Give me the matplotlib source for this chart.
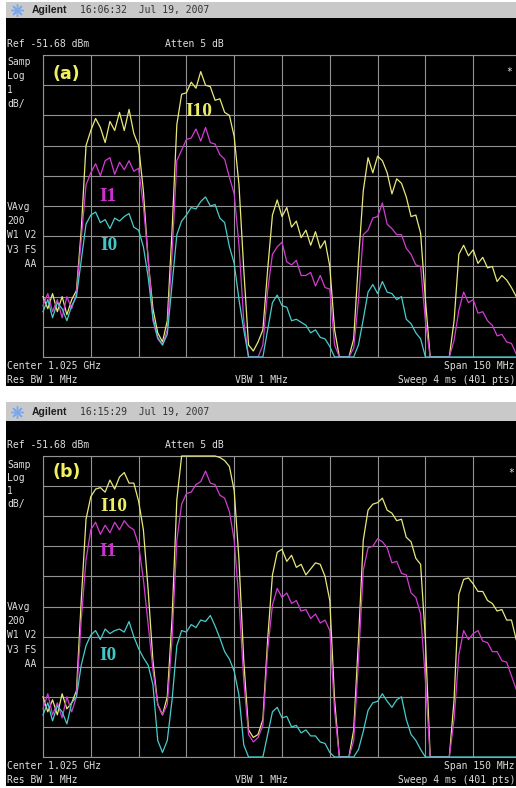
import numpy as np
import matplotlib
matplotlib.use("Agg")
import matplotlib.pyplot as plt
from matplotlib.patches import Rectangle

# ---------------------------------------------------------------------------
# Instrument settings shown on screen
REF_DBM = -51.68          # reference level (top graticule line)
DB_PER_DIV = 1            # log scale, 1 dB / division
N_DIV = 10
F_START_MHZ = 950.0       # center 1.025 GHz, span 150 MHz
F_STOP_MHZ = 1100.0
F_STEP_MHZ = 1.5          # trace sample spacing

# Trace levels in dB relative to the reference level, one value per 1.5 MHz
# Panel (a), 16:06:32
A_I10 = [-8.0, -8.4, -7.9, -8.5, -8.0, -8.6, -8.1, -7.8, -5.8, -3.0,
         -2.5, -2.1, -2.4, -2.9, -2.2, -2.5, -1.9, -2.5, -1.8, -2.6,
         -3.0, -4.5, -6.8, -8.4, -9.2, -9.5, -8.8, -5.8, -2.3, -1.3,
         -1.25, -0.9, -1.1, -0.55, -1.0, -1.05, -1.5, -1.45, -1.9, -2.0,
         -2.7, -4.3, -7.1, -9.6, -9.8, -9.5, -9.1, -7.1, -5.3, -4.8,
         -5.35, -5.05, -5.7, -5.5, -6.05, -5.8, -6.3, -5.85, -6.4, -6.15,
         -7.0, -9.1, -10, -10, -10, -9.4, -6.8, -4.5, -3.4, -3.9,
         -3.35, -3.5, -3.9, -4.6, -4.1, -4.25, -4.7, -5.35, -5.3, -5.9,
         -8.1, -10, -10, -10, -10, -10, -8.8, -6.6, -6.3, -6.65,
         -6.45, -6.9, -6.7, -7.05, -7.0, -7.5, -7.3, -7.45, -7.7, -8.0,
         -8.3]
A_I1 = [-8.3, -7.9, -8.5, -8.1, -8.7, -8.0, -8.4, -7.9, -6.1, -4.3,
        -3.9, -3.6, -4.0, -3.5, -3.4, -3.95, -3.55, -3.8, -3.5, -3.85,
        -3.75, -5.0, -6.7, -8.8, -9.4, -9.6, -9.1, -6.6, -3.5, -3.15,
        -2.8, -2.75, -2.45, -2.85, -2.4, -2.9, -2.95, -3.3, -3.45, -4.05,
        -4.6, -6.3, -8.8, -10, -10, -10, -9.6, -7.8, -6.6, -6.35,
        -6.2, -6.85, -6.95, -6.8, -7.3, -7.3, -7.2, -7.65, -7.3, -7.7,
        -7.75, -9.6, -10, -10, -10, -9.7, -8.1, -5.95, -5.8, -5.4,
        -5.35, -4.9, -5.6, -5.75, -5.95, -5.95, -6.4, -6.6, -6.95, -7.0,
        -8.8, -10, -10, -10, -10, -10, -9.45, -8.45, -7.85, -8.2,
        -8.1, -8.55, -8.5, -8.8, -8.95, -9.3, -9.25, -9.5, -9.55, -9.9,
        -10]
A_I0 = [-8.5, -8.1, -8.7, -8.2, -8.4, -8.8, -8.3, -8.0, -6.8, -5.6,
        -5.3, -5.2, -5.55, -5.45, -5.75, -5.4, -5.5, -5.35, -5.25, -5.7,
        -5.8, -6.35, -7.35, -8.7, -9.35, -9.6, -9.25, -7.6, -5.95, -5.5,
        -5.3, -5.05, -5.1, -4.85, -4.7, -5.0, -4.95, -5.4, -5.55, -6.35,
        -6.9, -8.1, -9.1, -10, -10, -10, -10, -9.1, -8.2, -7.95,
        -8.3, -8.35, -8.8, -8.75, -8.85, -8.95, -9.2, -9.1, -9.35, -9.4,
        -9.65, -10, -10, -10, -10, -10, -9.6, -8.75, -7.85, -7.6,
        -7.9, -7.5, -7.85, -7.9, -8.1, -8.0, -8.75, -8.9, -9.2, -9.4,
        -10, -10, -10, -10, -10, -10, -10, -10, -10, -10,
        -10, -10, -10, -10, -10, -10, -10, -10, -10, -10,
        -10]

# Panel (b), 16:15:29
B_I10 = [-8.0, -8.5, -8.1, -8.6, -7.9, -8.4, -8.2, -7.8, -4.8, -2.1,
         -1.35, -1.1, -1.05, -1.2, -0.8, -1.1, -0.7, -0.55, -0.9, -0.9,
         -1.5, -2.45, -4.45, -6.8, -8.25, -8.6, -8.0, -5.4, -1.45, 0.0,
         0.0, 0.0, 0.0, 0.0, 0.0, 0.0, 0.0, -0.05, -0.15, -0.35,
         -1.15, -3.45, -6.8, -9.1, -9.35, -9.25, -8.75, -6.1, -3.95, -3.2,
         -3.1, -3.5, -3.3, -3.7, -3.6, -3.95, -3.75, -3.55, -3.6, -4.0,
         -4.8, -8.1, -10, -10, -10, -9.1, -6.1, -2.8, -1.8, -1.6,
         -1.55, -1.4, -1.8, -1.9, -2.15, -2.1, -2.7, -2.85, -3.4, -3.6,
         -6.1, -10, -10, -10, -10, -10, -8.1, -4.6, -4.1, -4.05,
         -4.25, -4.5, -4.5, -4.8, -4.9, -5.15, -5.1, -5.45, -5.45, -6.1,
         -6.5]
B_I1 = [-8.4, -7.9, -8.6, -8.2, -8.7, -8.0, -8.5, -8.0, -5.45, -3.45,
        -2.45, -2.2, -2.6, -2.3, -2.55, -2.2, -2.45, -2.15, -2.35, -2.45,
        -2.95, -4.1, -5.6, -7.1, -8.25, -8.6, -8.25, -6.1, -2.8, -1.6,
        -1.25, -1.2, -0.95, -0.85, -0.5, -0.9, -0.95, -1.3, -1.4, -1.85,
        -2.8, -4.8, -7.45, -9.25, -9.5, -9.35, -8.95, -6.45, -4.95, -4.4,
        -4.7, -4.55, -4.9, -4.8, -5.15, -5.1, -5.4, -5.25, -5.55, -5.45,
        -5.8, -8.45, -10, -10, -10, -9.45, -6.8, -3.8, -3.05, -3.0,
        -2.75, -2.85, -3.05, -3.55, -3.5, -3.9, -3.95, -4.55, -4.7, -5.25,
        -7.45, -10, -10, -10, -10, -10, -8.75, -6.6, -5.8, -6.1,
        -5.9, -5.8, -6.15, -6.2, -6.5, -6.5, -6.8, -6.85, -7.3, -7.75,
        -8.2]
B_I0 = [-8.6, -8.2, -8.8, -8.3, -8.5, -8.9, -8.2, -8.0, -6.95, -6.3,
        -5.95, -5.8, -6.1, -5.75, -5.9, -5.8, -5.75, -5.85, -5.5, -6.0,
        -6.4, -6.7, -6.95, -7.6, -9.45, -9.85, -9.45, -8.1, -6.3, -5.8,
        -5.85, -5.6, -5.7, -5.45, -5.5, -5.3, -5.65, -6.05, -6.5, -6.75,
        -7.15, -7.95, -9.6, -10, -10, -10, -10, -9.25, -8.5, -8.35,
        -8.7, -8.65, -9.0, -8.95, -9.2, -9.1, -9.3, -9.3, -9.5, -9.55,
        -9.85, -10, -10, -10, -10, -10, -9.75, -9.15, -8.45, -8.2,
        -8.15, -7.9, -8.15, -8.35, -8.1, -8.0, -8.75, -9.25, -9.45, -9.75,
        -10, -10, -10, -10, -10, -10, -10, -10, -10, -10,
        -10, -10, -10, -10, -10, -10, -10, -10, -10, -10,
        -10]

TRACE_NAMES = ["I10", "I1", "I0"]
TIMES = ["16:06:32", "16:15:29"]
DATE = "Jul 19, 2007"
PANEL_TAGS = ["(a)", "(b)"]

# ---------------------------------------------------------------------------
W, H = 516, 788
fig = plt.figure(figsize=(W / 100, H / 100), dpi=100)
fig.patch.set_facecolor("white")

# pixel-coordinate layers: background and foreground annotations
bg = fig.add_axes([0, 0, 1, 1], zorder=0)
fg = fig.add_axes([0, 0, 1, 1], zorder=5)
for a in (bg, fg):
    a.set_xlim(0, W)
    a.set_ylim(H, 0)
    a.axis("off")
    a.patch.set_alpha(0)

MONO = "DejaVu Sans Mono"
TXT = "#dedede"
GRID = "#939393"
COLORS = ["#e8e87a", "#d23cd2", "#48cccc"]
TAG_COLORS = ["#eeee66", "#d030d0", "#40c8c8"]

freq = F_START_MHZ + F_STEP_MHZ * np.arange(len(A_I10))
panel_traces = [(A_I10, A_I1, A_I0), (B_I10, B_I1, B_I0)]

# per-panel layout (pixel rows)
layouts = [
    dict(hdr=2, blk=(18, 386), grid=(55, 357), ref=44,
         left=[("Samp", 62), ("Log", 76), ("1", 90), ("dB/", 104),
               ("VAvg", 207), ("200", 221), ("W1 V2", 235), ("V3 FS", 250), ("   AA", 264)],
         foot=(366, 380), tag=74, star=(509, 72),
         labels=[(199, 111), (108, 196), (109, 245)]),
    dict(hdr=402, blk=(421, 786), grid=(456, 757), ref=445,
         left=[("Samp", 465), ("Log", 478), ("1", 491), ("dB/", 504),
               ("VAvg", 607), ("200", 621), ("W1 V2", 635), ("V3 FS", 650), ("   AA", 664)],
         foot=(766, 780), tag=472, star=(511, 473),
         labels=[(114, 506), (108, 551), (108, 655)]),
]

for p, lay in enumerate(layouts):
    # header bar
    bg.add_patch(Rectangle((6, lay["hdr"]), W - 6, lay["blk"][0] - lay["hdr"],
                           facecolor="#c9c9c9", edgecolor="none"))
    # screen
    bg.add_patch(Rectangle((6, lay["blk"][0]), W - 6, lay["blk"][1] - lay["blk"][0],
                           facecolor="#000000", edgecolor="none"))
    hy = (lay["hdr"] + lay["blk"][0]) / 2
    fg.plot([17], [hy], marker=(8, 2, 0), markersize=9, color="#7fa6e6", mew=1.0)
    fg.plot([17], [hy], marker="o", markersize=2.5, color="#7fa6e6")
    fg.text(32, hy, "Agilent", family="Liberation Sans", weight="bold", size=7.5,
            color="#1e1e1e", va="center", ha="left")
    fg.text(80, hy, f"{TIMES[p]}  {DATE}", family=MONO, size=7, color="#333333",
            va="center", ha="left")

    fg.text(7, lay["ref"], f"Ref {REF_DBM:.2f} dBm", family=MONO, size=7, color=TXT,
            va="center", ha="left")
    fg.text(165, lay["ref"], "Atten 5 dB", family=MONO, size=7, color=TXT,
            va="center", ha="left")
    for s, yy in lay["left"]:
        fg.text(7, yy, s, family=MONO, size=7, color=TXT, va="center", ha="left")
    f1, f2 = lay["foot"]
    fg.text(7, f1, f"Center {(F_START_MHZ + F_STOP_MHZ) / 2000:.3f} GHz", family=MONO,
            size=7, color=TXT, va="center", ha="left")
    fg.text(7, f2, "Res BW 1 MHz", family=MONO, size=7, color=TXT, va="center", ha="left")
    fg.text(235, f2, "VBW 1 MHz", family=MONO, size=7, color=TXT, va="center", ha="left")
    fg.text(515, f1, f"Span {F_STOP_MHZ - F_START_MHZ:.0f} MHz", family=MONO, size=7,
            color=TXT, va="center", ha="right")
    fg.text(515, f2, "Sweep 4 ms (401 pts)", family=MONO, size=7, color=TXT,
            va="center", ha="right")
    fg.text(52, lay["tag"], PANEL_TAGS[p], family="DejaVu Sans", weight="bold", size=12.5,
            color="#f2f060", va="center", ha="left")
    fg.text(lay["star"][0], lay["star"][1], "*", family=MONO, size=7, color="#e8e8e8",
            va="center", ha="center")

    # graticule: 10 x 10 divisions; the right edge runs past the screen crop
    g_top, g_bot = lay["grid"]
    gx0, gx1 = 43, 43 + 47.8 * N_DIV
    ax = fig.add_axes([gx0 / W, 1 - g_bot / H, (gx1 - gx0) / W, (g_bot - g_top) / H],
                      zorder=2)
    ax.set_facecolor("none")
    ax.set_xlim(F_START_MHZ, F_STOP_MHZ)
    ax.set_ylim(-N_DIV * DB_PER_DIV, 0)
    ax.set_xticks(np.linspace(F_START_MHZ, F_STOP_MHZ, N_DIV + 1))
    ax.set_yticks(np.arange(-N_DIV, 1) * DB_PER_DIV)
    ax.grid(True, color=GRID, lw=0.8)
    ax.tick_params(length=0, labelbottom=False, labelleft=False)
    for sp in ax.spines.values():
        sp.set_color(GRID)
        sp.set_linewidth(0.8)

    for tr, col in zip(panel_traces[p], COLORS):
        ax.plot(freq, tr, color=col, lw=0.9, clip_on=False, zorder=3)

    for (lx, ly), name, col in zip(lay["labels"], TRACE_NAMES, TAG_COLORS):
        fg.text(lx, ly, name, family="Liberation Serif", weight="bold", size=14,
                color=col, va="center", ha="center")

fig.savefig("out.png", dpi=100, facecolor="white")
